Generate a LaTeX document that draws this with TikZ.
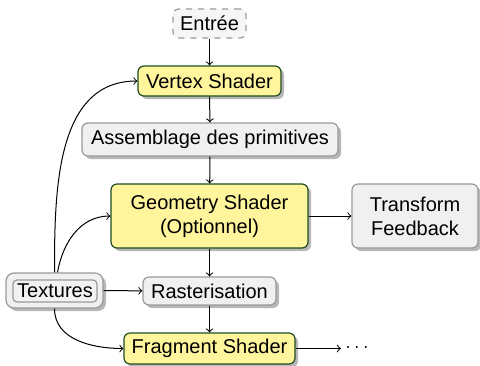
\documentclass[tikz,border=0pt]{standalone}
\usepackage{fontspec}
\setmainfont{Liberation Sans}
\usetikzlibrary{shadows,arrows}
\definecolor{yfill}{HTML}{FFF59D}
\definecolor{ydraw}{HTML}{1F4D1F}
\definecolor{gfill}{HTML}{F0F0F0}
\definecolor{gdraw}{HTML}{999999}
\tikzset{
  x=0.5pt, y=-0.5pt,
  base/.style={rounded corners=3pt, align=center, inner sep=0pt, font=\fontsize{10}{12}\selectfont},
  shad/.style={drop shadow={shadow xshift=1.5pt, shadow yshift=-1.5pt, fill=black!40, opacity=0.7}},
  ybox/.style={base, shad, fill=yfill, draw=ydraw, line width=0.6pt},
  gbox/.style={base, shad, fill=gfill, draw=gdraw, line width=0.6pt},
  dbox/.style={base, fill=gfill!60, draw=gdraw, dashed, line width=0.6pt},
  arr/.style={->, >=to, line width=0.5pt},
}
\begin{document}
\begin{tikzpicture}
\useasboundingbox (0,0) rectangle (480,365);
\node[dbox, minimum width=36.5pt, minimum height=14.5pt] (ent) at (209.5,23.5) {Entrée};
\node[ybox, minimum width=71.5pt, minimum height=15pt] (vs) at (209.5,81) {Vertex Shader};
\node[gbox, minimum width=128pt, minimum height=16.5pt] (asm) at (210,139.5) {Assemblage des primitives};
\node[ybox, minimum width=98.5pt, minimum height=32pt] (gs) at (209.5,216) {Geometry Shader\\(Optionnel)};
\node[gbox, minimum width=63pt, minimum height=32pt] (tf) at (415,216) {Transform\\Feedback};
\node[gbox, minimum width=48.5pt, minimum height=17.5pt, rounded corners=4pt] (tex) at (54.5,290.5) {};
\node[base, draw=gdraw, fill=gfill!80!gdraw!40, line width=0.6pt, minimum width=42pt, minimum height=11pt, rounded corners=2pt] (texin) at (55,291) {Textures};
\node[gbox, minimum width=66.5pt, minimum height=14pt] (ras) at (209.5,291) {Rasterisation};
\node[ybox, minimum width=85.5pt, minimum height=15.5pt] (fs) at (209.5,348.5) {Fragment Shader};
\node[inner sep=2pt] (dots) at (357,348.5) {$\cdots$};

\draw[arr] (ent) -- (vs);
\draw[arr] (vs) -- (asm);
\draw[arr] (asm) -- (gs);
\draw[arr] (gs) -- (ras);
\draw[arr] (ras) -- (fs);
\draw[arr] (gs) -- (tf);
\draw[arr] (fs) -- (dots);
\draw[arr] (tex) -- (ras);
\draw[arr] (tex.north) to[out=90, in=180] (vs.west);
\draw[arr] ([xshift=1.5pt]tex.north) to[out=80, in=180] (gs.west);
\draw[arr] (tex.south) to[out=-90, in=180] (fs.west);
\end{tikzpicture}
\end{document}
